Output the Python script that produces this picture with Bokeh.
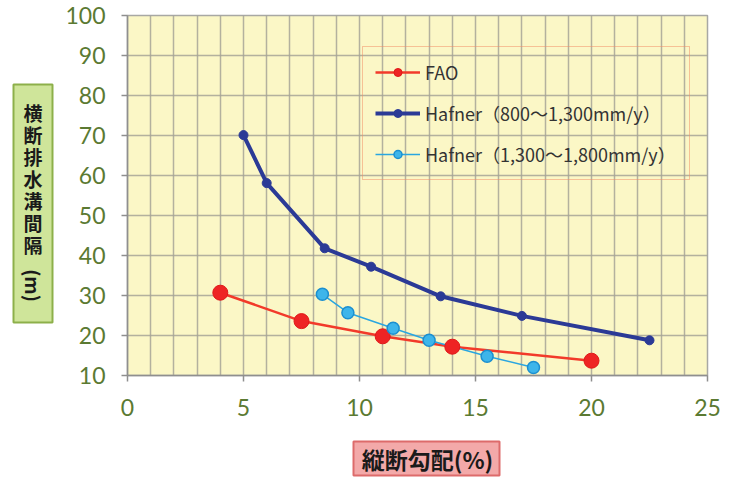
from bokeh.plotting import figure
from bokeh.models import Label, Legend, LegendItem, FixedTicker, Range1d
from bokeh.layouts import row, column
from bokeh.embed import file_html
from bokeh.resources import INLINE

# ---- data ----
fao_x = [4, 7.5, 11, 14, 20]
fao_y = [30.7, 23.6, 19.8, 17.2, 13.7]
haf1_x = [5, 6, 8.5, 10.5, 13.5, 17, 22.5]
haf1_y = [70.1, 58.1, 41.8, 37.2, 29.8, 24.9, 18.8]
haf2_x = [8.4, 9.5, 11.45, 13.0, 15.5, 17.5]
haf2_y = [30.3, 25.7, 21.8, 18.8, 14.8, 12.0]

series_labels = ["FAO", "Hafner（800～1,300mm/y）", "Hafner（1,300～1,800mm/y）"]
x_ticks = [0, 5, 10, 15, 20, 25]
y_ticks = [10, 20, 30, 40, 50, 60, 70, 80, 90, 100]
x_title = "縦断勾配(%)"
y_title_chars = list("横断排水溝間隔")
y_title_unit = "(m)"

W, H = 749, 481
LW = 60            # left title strip width
PH = 436           # main plot height
BH = H - PH        # bottom title strip height
FT, FB = 15, 375   # frame top / bottom (pixels from top)

p = figure(width=W - LW, height=PH, x_range=Range1d(0, 25), y_range=Range1d(10, 100),
           output_backend="svg", toolbar_location=None,
           min_border_left=127 - LW, min_border_right=42, min_border_top=FT,
           min_border_bottom=PH - FB)
p.background_fill_color = "#FBF7C6"
p.border_fill_color = "white"
p.outline_line_color = "#A8A8A4"
p.outline_line_width = 1.5

# grid
p.xgrid.ticker = FixedTicker(ticks=list(range(0, 26)))
p.ygrid.ticker = FixedTicker(ticks=y_ticks)
for g in (p.xgrid, p.ygrid):
    g.grid_line_color = "#A6A596"
    g.grid_line_width = 1.5
    g.grid_line_alpha = 0.85

# axes
p.xaxis.ticker = FixedTicker(ticks=x_ticks)
p.yaxis.ticker = FixedTicker(ticks=y_ticks)
for ax in (p.xaxis, p.yaxis):
    ax.major_label_text_font = "Lato"
    ax.major_label_text_font_size = "23px"
    ax.major_label_text_color = "#5B7A32"
    ax.axis_line_color = "#8F8F8F"
    ax.axis_line_width = 1.5
    ax.major_tick_line_color = "#8F8F8F"
    ax.major_tick_line_width = 1.5
    ax.major_tick_out = 6
    ax.major_tick_in = 0
    ax.minor_tick_out = 0
    ax.minor_tick_in = 0
p.xaxis.major_label_standoff = 17
p.yaxis.major_label_standoff = 16

# series
r1l = p.line(fao_x, fao_y, line_color="#F23A2A", line_width=2.5)
r2l = p.line(haf1_x, haf1_y, line_color="#2B3A96", line_width=4)
r3l = p.line(haf2_x, haf2_y, line_color="#2AA6E0", line_width=1.5)
r1s = p.scatter(fao_x, fao_y, size=15, fill_color="#EE2424", line_color="#E01818", line_width=1)
r2s = p.scatter(haf1_x, haf1_y, size=9, fill_color="#2B3A96", line_color="#2B3A96")
r3s = p.scatter(haf2_x, haf2_y, size=12, fill_color="#3DB5EA", line_color="#1C8FD0", line_width=1.5)

legend = Legend(items=[
    LegendItem(label=series_labels[0], renderers=[r1l, r1s]),
    LegendItem(label=series_labels[1], renderers=[r2l, r2s]),
    LegendItem(label=series_labels[2], renderers=[r3l, r3s]),
], location=(235, 195))
legend.padding = 12
legend.spacing = 15
legend.label_height = 20
legend.glyph_height = 20
legend.glyph_width = 45
legend.label_standoff = 5
legend.label_width = 252
legend.margin = 0
legend.border_line_color = "#F28C64"
legend.border_line_width = 1.5
legend.background_fill_alpha = 0
legend.label_text_font = "Noto Sans CJK JP"
legend.label_text_font_size = "18px"
legend.label_text_color = "#333333"
p.add_layout(legend)

# ---- left strip: y title (frame aligned with main plot frame) ----
# data coordinates = pixels measured up from the bottom of this strip
ly = figure(width=LW, height=PH, x_range=Range1d(0, LW), y_range=Range1d(PH - FB, PH - FT),
            output_backend="svg", toolbar_location=None,
            x_axis_location=None, y_axis_location=None,
            min_border_left=0, min_border_right=0, min_border_top=FT, min_border_bottom=PH - FB)
ly.grid.visible = False
ly.outline_line_color = None
ly.background_fill_color = "white"
ly.border_fill_color = "white"
ly.quad(left=13, right=52, top=PH - 84, bottom=PH - 322,
        fill_color="#CFE59A", line_color="#8DB04A", line_width=2)
ys = [112, 134, 156, 178, 200, 222, 244]
for ch, yy in zip(y_title_chars, ys):
    ly.add_layout(Label(x=32.5, y=PH - yy, text=ch,
                        text_align="center", text_baseline="middle",
                        text_font="Noto Sans CJK JP", text_font_style="bold",
                        text_font_size="19px", text_color="#1A1A1A"))
ly.add_layout(Label(x=32.5, y=PH - 285, text=y_title_unit,
                    angle=-90, angle_units="deg",
                    text_align="center", text_baseline="middle",
                    text_font="Noto Sans CJK JP", text_font_style="bold",
                    text_font_size="19px", text_color="#1A1A1A"))

# ---- bottom strip: x title ----
bx = figure(width=W, height=BH, x_range=Range1d(0, W), y_range=Range1d(0, BH),
            output_backend="svg", toolbar_location=None,
            x_axis_location=None, y_axis_location=None, min_border=0)
bx.grid.visible = False
bx.outline_line_color = None
bx.background_fill_color = "white"
bx.border_fill_color = "white"
bx.quad(left=353, right=499, top=BH - 5, bottom=BH - 39,
        fill_color="#F3A9A9", line_color="#DD6B6B", line_width=2)
bx.add_layout(Label(x=427, y=BH - 22, text=x_title,
                    text_align="center", text_baseline="middle",
                    text_font="Noto Sans CJK JP", text_font_style="bold",
                    text_font_size="23px", text_color="#1A1A1A"))

layout = column(row(ly, p, spacing=0), bx, spacing=0)
open("out.html", "w").write(file_html(layout, INLINE))
